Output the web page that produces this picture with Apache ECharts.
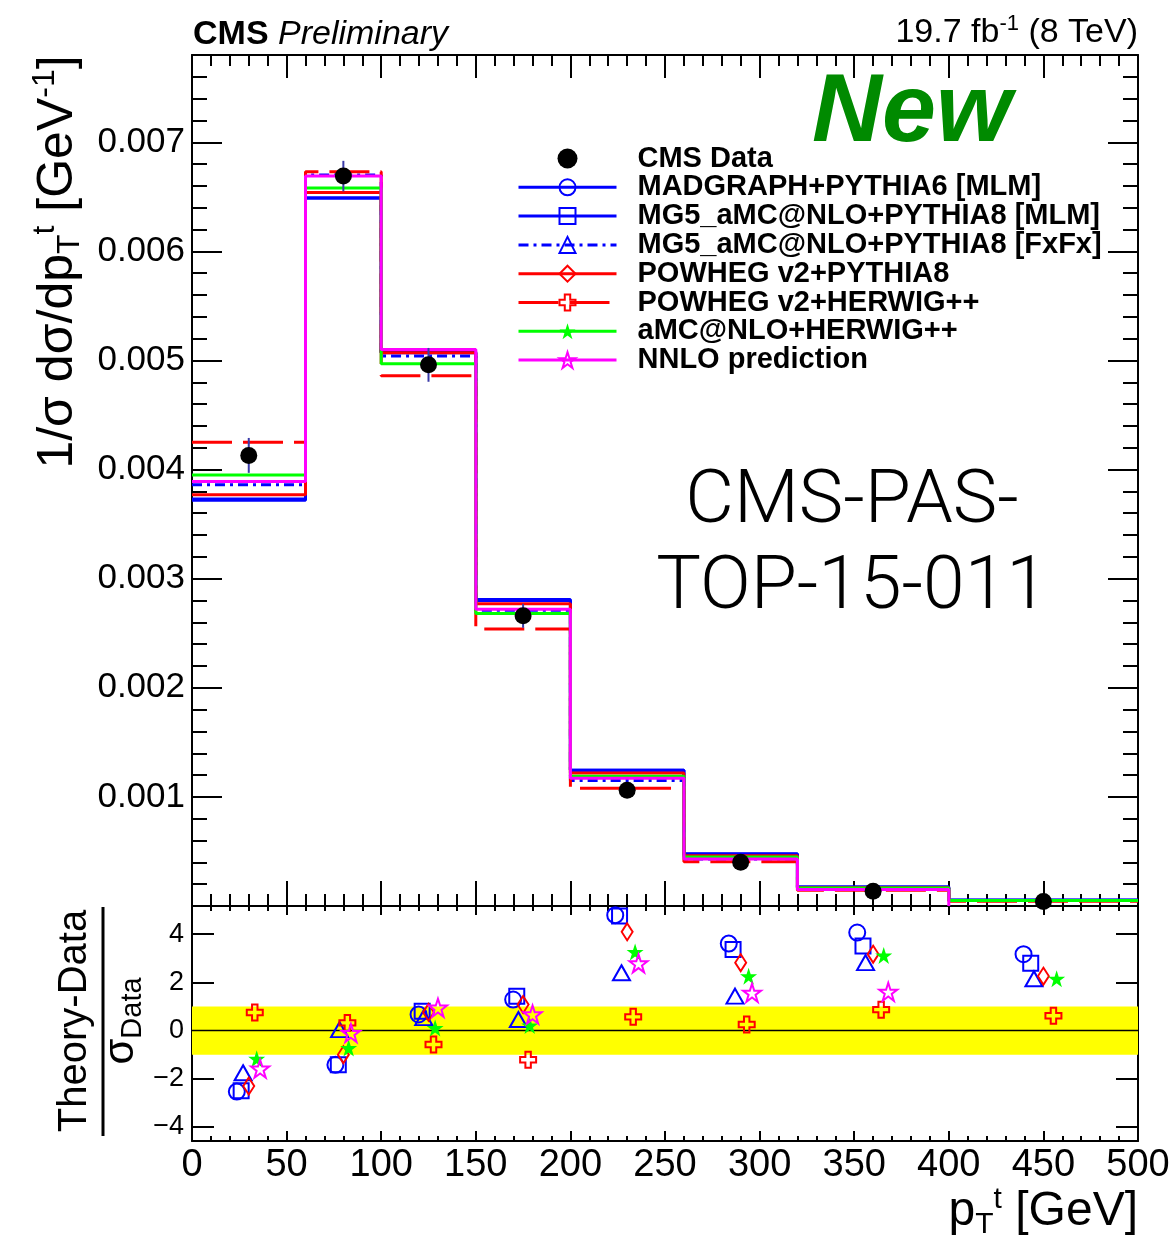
<!DOCTYPE html>
<html>
<head>
<meta charset="utf-8">
<title>CMS top pT</title>
<script src="https://cdn.jsdelivr.net/npm/echarts@6/dist/echarts.min.js"></script>
<style>
  html, body { margin: 0; padding: 0; background: #fff; }
  #ChartMain { width: 1176px; height: 1248px; }
</style>
</head>
<body>
<div id="ChartMain"></div>
<script>
// binning in pT(top) [GeV]
var binEdges = [0, 60, 100, 150, 200, 260, 320, 400, 500];
var binCenters = [30, 80, 125, 175, 230, 290, 360, 450];

// CMS data, 1/sigma dsigma/dpT [GeV^-1]
var dataVals = [0.00413, 0.00669, 0.00496, 0.00266, 0.00106, 0.00040, 0.000135, 0.000042];
var dataErrs = [0.00016, 0.00014, 0.000155, 0.00011, 0.00004, 0.000022, 0.00001, 0.000004];

// predictions (histograms)
var histMadgraphP6 = [0.00373, 0.00649, 0.00507, 0.00280, 0.001244, 0.00048, 0.000176, 0.000055];
var histMg5Mlm = [0.00372, 0.00649, 0.00508, 0.00281, 0.001245, 0.000474, 0.00017, 0.000053];
var histMg5Fxfx = [0.00386, 0.00670, 0.00504, 0.00271, 0.00115, 0.00043, 0.000163, 0.000051];
var histPowhegP8 = [0.00377, 0.00654, 0.00507, 0.00277, 0.00122, 0.00046, 0.000167, 0.000051];
var histPowhegHw = [0.00425, 0.00673, 0.00486, 0.00254, 0.00108, 0.000405, 0.000144, 0.0000445];
var histAmcHw = [0.00395, 0.00658, 0.00497, 0.00268, 0.00119, 0.00045, 0.000166, 0.000051];
var histNnlo = [0.00389, 0.00669, 0.00510, 0.00272, 0.00117, 0.00043, 0.000151];

// (theory - data) / sigma_data
var pullMadgraphP6 = [-2.53, -1.42, 0.67, 1.29, 4.79, 3.61, 4.07, 3.17];
var pullMg5Mlm = [-2.50, -1.42, 0.80, 1.43, 4.76, 3.37, 3.51, 2.79];
var pullMg5Fxfx = [-1.75, 0.04, 0.54, 0.46, 2.40, 1.43, 2.82, 2.15];
var pullPowhegP8 = [-2.30, -1.00, 0.76, 1.08, 4.10, 2.82, 3.17, 2.26];
var pullPowhegHw = [0.75, 0.32, -0.58, -1.21, 0.57, 0.25, 0.87, 0.62];
var pullAmcHw = [-1.17, -0.72, 0.11, 0.21, 3.26, 2.26, 3.12, 2.15];
var pullNnlo = [-1.58, -0.10, 0.95, 0.67, 2.79, 1.57, 1.61];

var theoryNames = ['MADGRAPH+PYTHIA6 [MLM]', 'MG5_aMC@NLO+PYTHIA8 [MLM]', 'MG5_aMC@NLO+PYTHIA8 [FxFx]',
  'POWHEG v2+PYTHIA8', 'POWHEG v2+HERWIG++', 'aMC@NLO+HERWIG++', 'NNLO prediction'];
var theoryHists = [histMadgraphP6, histMg5Mlm, histMg5Fxfx, histPowhegP8, histPowhegHw, histAmcHw, histNnlo];
var theoryPulls = [pullMadgraphP6, pullMg5Mlm, pullMg5Fxfx, pullPowhegP8, pullPowhegHw, pullAmcHw, pullNnlo];

var starPath = 'path://M50,0 L61.8,35.1 L98.6,35.1 L68.8,56.9 L80.2,91.9 L50,70.2 L19.8,91.9 L31.2,56.9 L1.4,35.1 L38.2,35.1 Z';
var crossPath = 'path://M33,0 L67,0 L67,33 L100,33 L100,67 L67,67 L67,100 L33,100 L33,67 L0,67 L0,33 L33,33 Z';

// look of each prediction; shift = marker offset in the ratio panel, as a fraction of the bin width
var theoryStyles = [
  { color: '#0000ff', line: 'solid', symbol: 'circle', size: 16, filled: false, shift: -0.105 },
  { color: '#0000ff', line: 'solid', symbol: 'rect', size: 15, filled: false, shift: -0.067 },
  { color: '#0000ff', line: [10, 5, 3, 5], symbol: 'triangle', size: [17, 15], filled: false, shift: -0.05 },
  { color: '#ff0000', line: 'solid', symbol: 'diamond', size: [11, 17], filled: false, shift: 0 },
  { color: '#ff0000', line: [40, 11], symbol: crossPath, size: 16, filled: false, shift: 0.053 },
  { color: '#00ff00', line: 'solid', symbol: starPath, size: 17, filled: true, shift: 0.07 },
  { color: '#ff00ff', line: 'solid', symbol: starPath, size: 18, filled: false, shift: 0.1 }
];

function histPoints(vals) {
  var pts = [];
  for (var i = 0; i < vals.length; i++) {
    pts.push([binEdges[i], vals[i]]);
  }
  pts.push([binEdges[vals.length], vals[vals.length - 1]]);
  if (vals.length < binEdges.length - 1) {
    pts.push([binEdges[vals.length], 0]);
  }
  return pts;
}

function pullPoints(pulls, shift) {
  var pts = [];
  for (var i = 0; i < pulls.length; i++) {
    var w = binEdges[i + 1] - binEdges[i];
    pts.push([binCenters[i] + shift * w, pulls[i]]);
  }
  return pts;
}

function markerStyle(st) {
  return {
    color: st.filled ? st.color : 'rgba(0,0,0,0)',
    borderColor: st.color,
    borderWidth: st.filled ? 0 : 2,
    opacity: 1
  };
}

function makeX(grid, pos, showLabel, major, minor) {
  return {
    type: 'value', gridIndex: grid, position: pos, min: 0, max: 500, interval: 50,
    axisLine: { show: true, onZero: false, lineStyle: { color: '#000', width: 2 } },
    axisTick: { show: true, inside: true, length: major, lineStyle: { color: '#000', width: 2 } },
    minorTick: { show: true, splitNumber: 5, length: minor, lineStyle: { color: '#000', width: 2 } },
    axisLabel: { show: showLabel, fontSize: 38, color: '#000', margin: 6, fontFamily: 'Liberation Sans' },
    splitLine: { show: false },
    minorSplitLine: { show: false }
  };
}

function makeYTop(pos, showLabel) {
  return {
    type: 'value', gridIndex: 0, position: pos, min: 0, max: 0.0078, interval: 0.001,
    axisLine: { show: true, onZero: false, lineStyle: { color: '#000', width: 2 } },
    axisTick: { show: true, inside: true, length: 30, lineStyle: { color: '#000', width: 2 } },
    minorTick: { show: true, splitNumber: 5, length: 15, lineStyle: { color: '#000', width: 2 } },
    axisLabel: {
      show: showLabel, fontSize: 35, color: '#000', margin: 7, fontFamily: 'Liberation Sans',
      formatter: function (v) { return (v > 0.0005 && v < 0.0075) ? v.toFixed(3) : ''; }
    },
    splitLine: { show: false }
  };
}

function makeYBottom(pos, showLabel) {
  return {
    type: 'value', gridIndex: 1, position: pos, min: -4.58, max: 5.17, splitNumber: 5,
    axisLine: { show: true, onZero: false, lineStyle: { color: '#000', width: 2 } },
    axisTick: { show: true, inside: true, length: 22, lineStyle: { color: '#000', width: 2 } },
    axisLabel: {
      show: showLabel, fontSize: 27, color: '#000', margin: 8, fontFamily: 'Liberation Sans',
      formatter: function (v) {
        if (Math.abs(v / 2 - Math.round(v / 2)) > 1e-6) return '';
        var r = Math.round(v);
        return r < 0 ? '\u2212' + Math.abs(r) : String(r);
      }
    },
    splitLine: { show: false }
  };
}

var series = [];
var legendData = [{ name: 'CMS Data', icon: 'circle', itemStyle: { color: '#000', opacity: 1 } }];

for (var k = 0; k < theoryNames.length; k++) {
  var st = theoryStyles[k];
  series.push({
    name: theoryNames[k],
    type: 'line',
    xAxisIndex: 0, yAxisIndex: 0,
    step: 'end',
    data: histPoints(theoryHists[k]),
    showSymbol: false,
    symbol: st.symbol,
    symbolSize: st.size,
    itemStyle: markerStyle(st),
    lineStyle: { color: st.color, width: 3, type: st.line },
    silent: true,
    z: 2
  });
  series.push({
    name: theoryNames[k] + ' pull',
    type: 'scatter',
    xAxisIndex: 2, yAxisIndex: 2,
    data: pullPoints(theoryPulls[k], st.shift),
    symbol: st.symbol,
    symbolSize: st.size,
    itemStyle: markerStyle(st),
    silent: true,
    z: 3
  });
  legendData.push({
    name: theoryNames[k],
    itemStyle: markerStyle(st),
    lineStyle: { color: st.color, width: 3, type: st.line }
  });
}

// data error bars
var errData = [];
var ptData = [];
for (var i = 0; i < dataVals.length; i++) {
  errData.push([binCenters[i], dataVals[i] - dataErrs[i], dataVals[i] + dataErrs[i]]);
  ptData.push([binCenters[i], dataVals[i]]);
}

series.push({
  name: 'CMS Data errors',
  type: 'custom',
  xAxisIndex: 0, yAxisIndex: 0,
  data: errData,
  encode: { x: 0, y: [1, 2] },
  renderItem: function (params, api) {
    var lo = api.coord([api.value(0), api.value(1)]);
    var hi = api.coord([api.value(0), api.value(2)]);
    return {
      type: 'line',
      shape: { x1: lo[0], y1: lo[1], x2: hi[0], y2: hi[1] },
      style: { stroke: '#3a3aa8', lineWidth: 2 }
    };
  },
  silent: true,
  z: 4
});

series.push({
  name: 'CMS Data',
  type: 'scatter',
  xAxisIndex: 0, yAxisIndex: 0,
  data: ptData,
  symbol: 'circle',
  symbolSize: 17,
  itemStyle: { color: '#000', opacity: 1 },
  silent: true,
  z: 5
});

// ratio panel: +-1 sigma band and zero line
series.push({
  name: 'zero',
  type: 'line',
  xAxisIndex: 2, yAxisIndex: 2,
  data: [[0, 0], [500, 0]],
  showSymbol: false,
  symbol: 'none',
  lineStyle: { color: '#000', width: 1.5 },
  silent: true,
  z: 2,
  markArea: {
    silent: true,
    itemStyle: { color: '#ffff00', opacity: 1 },
    data: [[{ yAxis: -1 }, { yAxis: 1 }]]
  }
});

var chart = echarts.init(document.getElementById('ChartMain'));

var option = {
  backgroundColor: '#fff',
  animation: false,
  grid: [
    { left: 192, right: 38, top: 55, height: 851, outerBoundsMode: 'none' },
    { left: 192, right: 38, top: 906, height: 235, outerBoundsMode: 'none' }
  ],
  xAxis: [
    makeX(0, 'bottom', false, 25, 12),
    makeX(0, 'top', false, 23, 11),
    makeX(1, 'bottom', true, 10, 5),
    makeX(1, 'top', false, 9, 5)
  ],
  yAxis: [
    makeYTop('left', true),
    makeYTop('right', false),
    makeYBottom('left', true),
    makeYBottom('right', false)
  ],
  legend: {
    orient: 'vertical',
    left: 517,
    top: 144,
    padding: 0,
    itemWidth: 98,
    itemHeight: 20,
    itemGap: -0.2,
    selectedMode: false,
    textStyle: {
      fontSize: 29, fontWeight: 'bold', color: '#000', fontFamily: 'Liberation Sans',
      padding: [0, 0, 0, 16]
    },
    data: legendData
  },
  graphic: [
    {
      type: 'text', left: 193, top: 18,
      style: {
        text: '{b|CMS }{i|Preliminary}',
        rich: {
          b: { fontSize: 34, fontWeight: 'bold', fontFamily: 'Liberation Sans', fill: '#000' },
          i: { fontSize: 34, fontStyle: 'italic', fontFamily: 'Liberation Sans', fill: '#000' }
        }
      }
    },
    {
      type: 'text', right: 38, top: 13,
      style: {
        text: '{a|19.7 fb}{s|-1}{a| (8 TeV)}',
        rich: {
          a: { fontSize: 34, fontFamily: 'Liberation Sans', fill: '#000' },
          s: { fontSize: 22, fontFamily: 'Liberation Sans', fill: '#000', padding: [0, 0, 18, 0] }
        }
      }
    },
    {
      type: 'text', x: 812, y: 114,
      style: {
        text: 'New', fill: '#008a00', align: 'left', verticalAlign: 'middle',
        font: 'italic bold 97px "Liberation Sans"'
      }
    },
    {
      type: 'text', x: 852, y: 503,
      style: {
        text: 'CMS-PAS-', fill: '#000', align: 'center', verticalAlign: 'middle',
        font: '300 75px Roboto'
      }
    },
    {
      type: 'text', x: 852, y: 589,
      style: {
        text: 'TOP-15-011', fill: '#000', align: 'center', verticalAlign: 'middle',
        font: '300 75px Roboto'
      }
    },
    {
      type: 'text', x: 58, y: 262, rotation: Math.PI / 2,
      style: {
        text: '{a|1/\u03c3 d\u03c3/dp}{sub|T}{sup|t}{a| [GeV}{sup|-1}{a|]}',
        align: 'center', verticalAlign: 'middle',
        rich: {
          a: { fontSize: 50, fontFamily: 'Liberation Sans', fill: '#000' },
          sub: { fontSize: 32, fontFamily: 'Liberation Sans', fill: '#000', padding: [24, 0, 0, 0] },
          sup: { fontSize: 32, fontFamily: 'Liberation Sans', fill: '#000', padding: [0, 0, 26, 0] }
        }
      }
    },
    {
      type: 'text', x: 75, y: 1021, rotation: Math.PI / 2,
      style: {
        text: 'Theory-Data', fill: '#000', align: 'center', verticalAlign: 'middle',
        font: '40px "Liberation Sans"'
      }
    },
    {
      type: 'line',
      shape: { x1: 103, y1: 907, x2: 103, y2: 1136 },
      style: { stroke: '#000', lineWidth: 3 }
    },
    {
      type: 'text', x: 121, y: 1021, rotation: Math.PI / 2,
      style: {
        text: '{s|\u03c3}{d|Data}',
        align: 'center', verticalAlign: 'middle',
        rich: {
          s: { fontSize: 42, fontFamily: 'Liberation Sans', fill: '#000' },
          d: { fontSize: 29, fontFamily: 'Liberation Sans', fill: '#000', padding: [24, 0, 0, 0] }
        }
      }
    },
    {
      type: 'text', x: 1138, y: 1212,
      style: {
        text: '{a|p}{sub|T}{sup|t}{a| [GeV]}',
        align: 'right', verticalAlign: 'middle',
        rich: {
          a: { fontSize: 48, fontFamily: 'Liberation Sans', fill: '#000' },
          sub: { fontSize: 30, fontFamily: 'Liberation Sans', fill: '#000', padding: [26, 0, 0, 0] },
          sup: { fontSize: 30, fontFamily: 'Liberation Sans', fill: '#000', padding: [0, 0, 24, 0] }
        }
      }
    }
  ],
  series: series
};

chart.setOption(option);
</script>
</body>
</html>
